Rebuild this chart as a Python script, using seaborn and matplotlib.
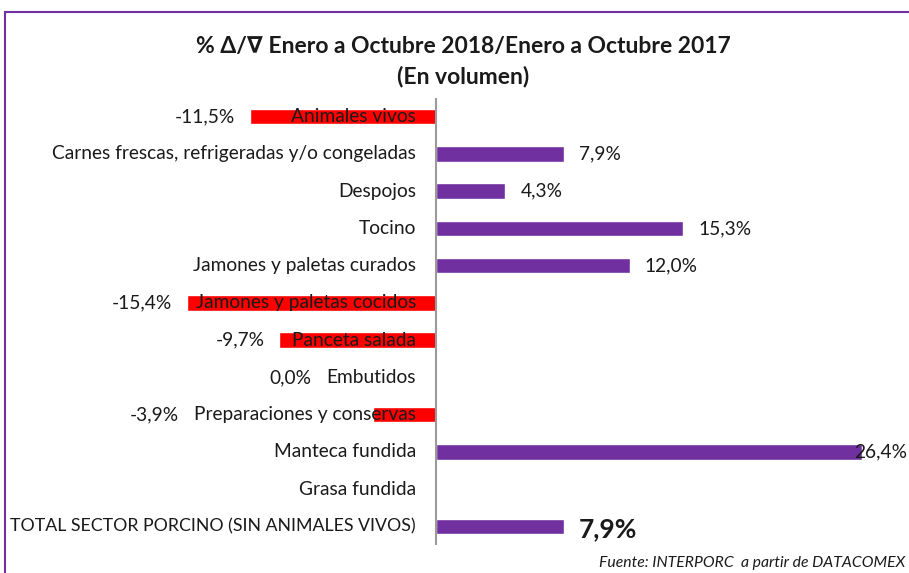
import matplotlib
matplotlib.use("Agg")
import matplotlib.pyplot as plt
import matplotlib.patches as patches
import matplotlib.transforms as mtransforms
import seaborn as sns
import pandas as pd
import numpy as np

categories = [
    "Animales vivos",
    "Carnes frescas, refrigeradas y/o congeladas",
    "Despojos",
    "Tocino",
    "Jamones y paletas curados",
    "Jamones y paletas cocidos",
    "Panceta salada",
    "Embutidos",
    "Preparaciones y conservas",
    "Manteca fundida",
    "Grasa fundida",
    "TOTAL SECTOR PORCINO (SIN ANIMALES VIVOS)",
]
values = [-11.5, 7.9, 4.3, 15.3, 12.0, -15.4, -9.7, 0.0, -3.9, 26.4, np.nan, 7.9]
value_labels = ["-11,5%", "7,9%", "4,3%", "15,3%", "12,0%", "-15,4%", "-9,7%",
                "0,0%", "-3,9%", "26,4%", None, "7,9%"]
title_lines = ["% Δ/∇ Enero a Octubre 2018/Enero a Octubre 2017", "(En volumen)"]
source_text = "Fuente: INTERPORC  a partir de DATACOMEX"

PURPLE = "#7030A0"
RED = "#FF0000"

sns.set_theme(style="white")
FAM = ["Lato", "DejaVu Sans"]
plt.rcParams["font.family"] = FAM

W, H = 909, 573
fig = plt.figure(figsize=(W / 100, H / 100), dpi=100)

# axes geometry in pixels
zero_px = 436
scale = 16.15  # px per %
L, R = 100, 909
top_px, bot_px = 98, 545
ax = fig.add_axes([L / W, 1 - bot_px / H, (R - L) / W, (bot_px - top_px) / H])

df = pd.DataFrame({
    "cat": categories,
    "val": [0.0 if np.isnan(v) else v for v in values],
    "sign": ["neg" if (not np.isnan(v) and v < 0) else "pos" for v in values],
})
sns.barplot(data=df, y="cat", x="val", hue="sign", order=categories,
            palette={"pos": PURPLE, "neg": RED}, dodge=False, width=0.42,
            legend=False, ax=ax, orient="h", saturation=1)

ax.set_xlim((L - zero_px) / scale, (R - zero_px) / scale)
ax.set_ylim(len(categories) - 0.5, -0.5)
for s in ax.spines.values():
    s.set_visible(False)
ax.set_xticks([])
ax.set_yticks([])
ax.set_xlabel("")
ax.set_ylabel("")
ax.patch.set_alpha(0)
ax.axvline(0, color="#9a9a9a", lw=1.5, zorder=5)

fs = 13.8
TXT = "#1a1a1a"
# category labels just left of zero
off = mtransforms.ScaledTranslation(-20 / 100, 0, fig.dpi_scale_trans)
cat_texts = []
for i, c in enumerate(categories):
    t = ax.text(0, i, c, ha="right", va="center", fontsize=fs, color=TXT,
                transform=ax.transData + off, zorder=6)
    cat_texts.append(t)

fig.canvas.draw()
renderer = fig.canvas.get_renderer()
# shrink the long TOTAL label so it fits in the frame (ref spans ~406 px)
tt = cat_texts[-1]
wt = tt.get_window_extent(renderer).width
if wt > 404:
    tt.set_fontsize(fs * 404 / wt)
fig.canvas.draw()
inv = ax.transData.inverted()

for i, (v, lab) in enumerate(zip(values, value_labels)):
    if lab is None:
        continue
    is_total = i == len(categories) - 1
    kw = dict(fontsize=19 if is_total else fs, color=TXT,
              fontweight="bold" if is_total else "normal", zorder=6)
    bar_end = ax.transData.transform((v, i))[0]
    ypix = ax.transData.transform((0, i))[1]
    if is_total:
        ypix -= 3
    if v > 0:
        t = ax.text(0, 0, lab, ha="left", va="center", **kw)
        w = t.get_window_extent(renderer).width
        xleft = bar_end + 15
        if xleft + w > W - 2:
            xleft = W - 2 - w
        t.set_position(inv.transform((xleft, ypix)))
    else:
        tl = cat_texts[i].get_window_extent(renderer).x0
        xright = min(bar_end, tl) - 15
        t = ax.text(*inv.transform((xright, ypix)), lab, ha="right", va="center", **kw)

fig.text(463 / W, 1 - 46 / H, title_lines[0], ha="center", va="center",
         fontsize=16.5, fontweight="bold", color=TXT)
fig.text(463 / W, 1 - 76 / H, title_lines[1], ha="center", va="center",
         fontsize=16.5, fontweight="bold", color=TXT)
fig.text(905 / W, 1 - 563 / H, source_text, ha="right", va="center",
         fontsize=11.3, style="italic", color=TXT)

# purple frame (left and top visible)
fig.patches.append(patches.Rectangle((5 / W, -0.1), 1.2, (H - 12) / H + 0.1,
                                     transform=fig.transFigure, fill=False,
                                     edgecolor=PURPLE, lw=1.5))

fig.savefig("out.png", dpi=100)
